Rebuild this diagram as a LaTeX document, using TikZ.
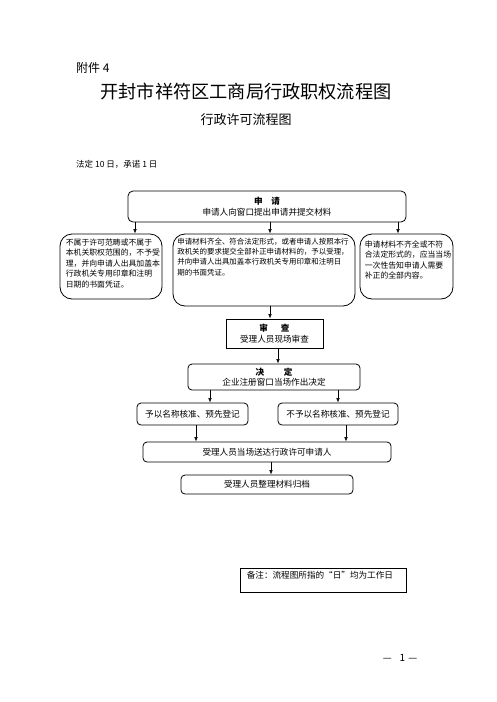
\documentclass[tikz,border=0pt]{standalone}
\usepackage{fontspec}
\setmainfont{Noto Sans CJK SC}
\usetikzlibrary{%
	positioning,
	calc,
	arrows.meta
}

\begin{document}
\begin{tikzpicture}[x=1pt,y=-1pt,
		SStep/.style={draw,line width=.8pt,rounded corners=4pt,inner sep=0pt,align=center,font=\fontsize{8.6}{10.5}\selectfont},
		SSquare/.style={SStep,rounded corners=0pt},
		SCase/.style={draw,line width=.8pt,rounded corners=12pt,inner sep=0pt},
		SText/.style={inner sep=0pt,align=left,anchor=north west,font=\fontsize{7.85}{10.5}\selectfont},
		flow/.style={line width=.6pt,-{Latex[length=4.5pt,width=3.5pt]}}
	]
	\useasboundingbox (0,0) rectangle (496,702);
	
	%heading
	\node(annex) [inner sep=0pt, anchor=west, font=\fontsize{12}{12}\selectfont] at (76,68) {附件 4};
	\node(title) [inner sep=0pt, font=\fontsize{18.2}{18.2}\selectfont] at (246,92) {开封市祥符区工商局行政职权流程图};
	\node(subtitle) [inner sep=0pt, font=\fontsize{13}{13}\selectfont] at (246,120) {行政许可流程图};
	\node(limit) [inner sep=0pt, anchor=west, font=\fontsize{8.5}{8.5}\selectfont] at (76,164) {法定 10 日，承诺 1 日};
	
	%apply
	\node(apply) [SStep, rounded corners=5pt, minimum width=278pt, minimum height=31pt] at (267,206.5) {\textbf{申\hspace{1em}请}\\申请人向窗口提出申请并提交材料};
	
	%three cases
	\node(reject) [SCase, minimum width=102pt, minimum height=65pt] at (111,266.5) {};
	\node(reject-t) [SText] at ([shift={(6pt,-5pt)}]reject.north west) {不属于许可范畴或不属于\\本机关职权范围的，不予受\\理，并向申请人出具加盖本\\行政机关专用印章和注明\\日期的书面凭证。};
	
	\node(accept) [SCase, minimum width=182pt, minimum height=72pt] at (264,270) {};
	\node(accept-t) [SText, font=\fontsize{7.45}{10.3}\selectfont] at ([shift={(4.5pt,-4pt)}]accept.north west) {申请材料齐全、符合法定形式，或者申请人按照本行\\政机关的要求提交全部补正申请材料的，予以受理，\\并向申请人出具加盖本行政机关专用印章和注明日\\期的书面凭证。};
	
	\node(supplement) [SCase, minimum width=93pt, minimum height=65pt] at (406.5,266.5) {};
	\node(supplement-t) [SText] at ([shift={(5pt,-7pt)}]supplement.north west) {申请材料不齐全或不符\\合法定形式的，应当当场\\一次性告知申请人需要\\补正的全部内容。};
	
	\draw [flow] ([xshift=-132pt]apply.south) -- ([xshift=24pt]reject.north);
	\draw [flow] ([xshift=3pt]apply.south) -- ([xshift=6pt]accept.north);
	\draw [flow] ([xshift=131pt]apply.south) -- ([xshift=-8.5pt]supplement.north);
	
	%review and decision
	\node(review) [SSquare, minimum width=97pt, minimum height=29pt] at (274.5,333.5) {\textbf{审\hspace{1.5em}查}\\受理人员现场审查};
	\node(decide) [SStep, minimum width=172pt, minimum height=26pt, font=\fontsize{8.6}{9.5}\selectfont] at (274,377) {\textbf{决\hspace{2.3em}定}\\企业注册窗口当场作出决定};
	\draw [flow] ([xshift=6pt]accept.south) -- ([xshift=-4.5pt]review.north);
	\draw [flow] ([xshift=3.5pt]review.south) -- ([xshift=4pt]decide.north);
	
	%outcomes
	\node(approve) [SStep, minimum width=111pt, minimum height=22pt] at (192.5,414) {予以名称核准、预先登记};
	\node(deny) [SStep, minimum width=120pt, minimum height=22pt] at (338,414) {不予以名称核准、预先登记};
	\draw [flow] ([xshift=-64pt]decide.south) -- ([xshift=17.5pt]approve.north);
	\draw [flow] ([xshift=64pt]decide.south) -- (deny.north);
	
	\node(deliver) [SStep, minimum width=248pt, minimum height=20pt] at (267,452) {受理人员当场送达行政许可申请人};
	\node(archive) [SStep, minimum width=172pt, minimum height=19pt] at (267,484.5) {受理人员整理材料归档};
	\draw [flow] ([xshift=3.5pt]approve.south) -- ([xshift=-71pt]deliver.north);
	\draw [flow] ([xshift=8pt]deny.south) -- ([xshift=79pt]deliver.north);
	\draw [flow] ([xshift=4pt]deliver.south) -- ([xshift=4pt]archive.north);
	
	%note
	\node(note) [SSquare, minimum width=166pt, minimum height=24pt] at (323,580) {};
	\node(note-t) [SText, font=\fontsize{8.6}{10}\selectfont] at ([shift={(7pt,-3pt)}]note.north west) {备注：流程图所指的“日”均为工作日};
	
	%page number
	\node(page) [inner sep=0pt, font=\fontsize{10}{10}\selectfont] at (400,658) {—\hspace{.8em}1\hspace{.3em}—};
	
\end{tikzpicture}
\end{document}
